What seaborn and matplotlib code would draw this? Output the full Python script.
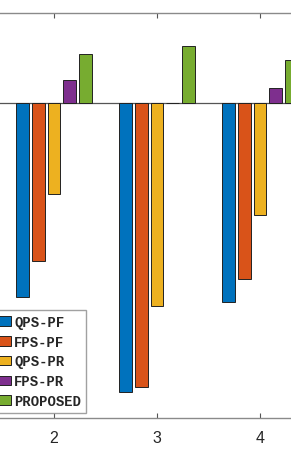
import matplotlib
matplotlib.use("Agg")
import matplotlib.pyplot as plt
from matplotlib.patches import Patch
import seaborn as sns
import pandas as pd

groups = [2, 3, 4]
methods = ["QPS-PF", "FPS-PF", "QPS-PR", "FPS-PR", "PROPOSED"]
qps_pf = [-21.6, -32.1, -22.1]
fps_pf = [-17.5, -31.6, -19.5]
qps_pr = [-10.1, -22.6, -12.4]
fps_pr = [2.55, 0.0, 1.7]
proposed = [5.5, 6.3, 4.8]
colors = ["#0072BD", "#D95319", "#EDB120", "#7E2F8E", "#77AC30"]

series = [qps_pf, fps_pf, qps_pr, fps_pr, proposed]
rows = []
for m, vals in zip(methods, series):
    for g, v in zip(groups, vals):
        rows.append({"group": g, "method": m, "value": v})
df = pd.DataFrame(rows)

W, H = 291, 452
fig = plt.figure(figsize=(W / 100, H / 100), dpi=100)
ax = fig.add_axes([0, 1 - 419 / H, 1, (419 - 14) / H])

ax.axhline(0, color="#555555", lw=0.9, zorder=1)
sns.barplot(data=df, x="group", y="value", hue="method", hue_order=methods,
            palette=colors, native_scale=True, width=0.7646, gap=0.175,
            edgecolor="#222222", linewidth=0.7, saturation=1, legend=False,
            ax=ax, zorder=2)

ax.set_xlim(2 - 54 / 103, 2 + 237 / 103)
ax.set_ylim(-35, 10)
ax.set_xticks(groups)
ax.set_xticklabels([str(g) for g in groups], fontfamily="Liberation Sans",
                   fontsize=11.5, color="#262626")
ax.set_yticks([])
ax.set_xlabel("")
ax.set_ylabel("")
for s in ["left", "right"]:
    ax.spines[s].set_visible(False)
for s in ["top", "bottom"]:
    ax.spines[s].set_color("#8a8a8a")
    ax.spines[s].set_linewidth(1.0)
ax.tick_params(axis="x", direction="in", top=True, bottom=True, length=3.6,
               width=0.8, color="#555555", pad=8.5)

handles = [Patch(facecolor=c, edgecolor="#222222", linewidth=0.7) for c in colors]
leg = ax.legend(handles, methods, loc="lower right",
                bbox_to_anchor=(86 / W, 1 - 414 / H), bbox_transform=fig.transFigure,
                prop={"family": "Liberation Mono", "size": 10, "weight": "bold"},
                frameon=True, fancybox=False, edgecolor="#8a8a8a",
                handlelength=0.95, handleheight=0.7, handletextpad=0.25,
                labelspacing=0.42, borderpad=0.35, borderaxespad=0)
leg.get_frame().set_linewidth(1.0)
for t in leg.get_texts():
    t.set_color("#262626")

fig.savefig("out.png", dpi=100)
